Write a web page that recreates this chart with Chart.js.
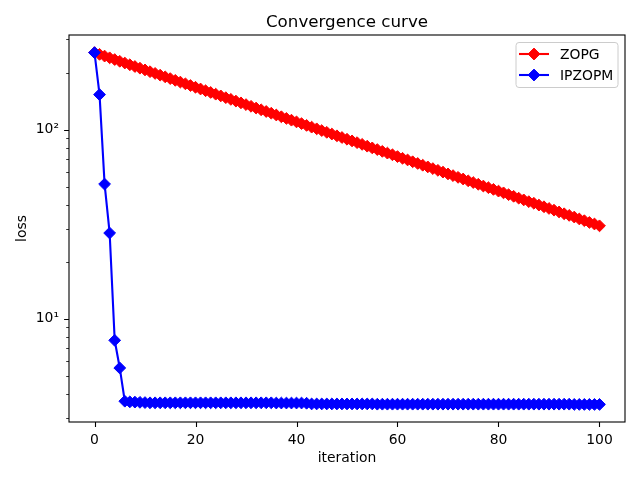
<!DOCTYPE html>
<html>
<head>
<meta charset="utf-8">
<script src="https://cdn.jsdelivr.net/npm/chart.js@4.4.1/dist/chart.umd.min.js"></script>
<style>
  body { margin: 0; background: #fff; }
  canvas { display: block; }
</style>
</head>
<body>
<canvas id="chart" width="640" height="480"></canvas>
<script>
// data
const iterations = [
  0, 1, 2, 3, 4, 5, 6, 7, 8, 9,
  10, 11, 12, 13, 14, 15, 16, 17, 18, 19,
  20, 21, 22, 23, 24, 25, 26, 27, 28, 29,
  30, 31, 32, 33, 34, 35, 36, 37, 38, 39,
  40, 41, 42, 43, 44, 45, 46, 47, 48, 49,
  50, 51, 52, 53, 54, 55, 56, 57, 58, 59,
  60, 61, 62, 63, 64, 65, 66, 67, 68, 69,
  70, 71, 72, 73, 74, 75, 76, 77, 78, 79,
  80, 81, 82, 83, 84, 85, 86, 87, 88, 89,
  90, 91, 92, 93, 94, 95, 96, 97, 98, 99,
  100
];

const zopgLoss = [
  255, 249.7, 244.5, 239.4, 234.4, 229.5, 224.7, 220.0, 215.4, 211.0,
  206.6, 202.2, 198.0, 193.9, 189.9, 185.9, 182.0, 178.2, 174.5, 170.9,
  167.3, 163.8, 160.4, 157.1, 153.8, 150.6, 147.4, 144.4, 141.4, 138.4,
  135.5, 132.7, 129.9, 127.2, 124.6, 122.0, 119.4, 116.9, 114.5, 112.1,
  109.8, 107.5, 105.2, 103.0, 100.9, 98.8, 96.7, 94.7, 92.7, 90.8,
  88.9, 87.1, 85.3, 83.5, 81.7, 80.0, 78.4, 76.7, 75.1, 73.6,
  72.0, 70.5, 69.1, 67.6, 66.2, 64.8, 63.5, 62.2, 60.9, 59.6,
  58.3, 57.1, 55.9, 54.8, 53.6, 52.5, 51.4, 50.3, 49.3, 48.3,
  47.3, 46.3, 45.3, 44.4, 43.4, 42.5, 41.6, 40.8, 39.9, 39.1,
  38.3, 37.5, 36.7, 35.9, 35.2, 34.5, 33.7, 33.0, 32.3, 31.7,
  31.0
];

const ipzopmLoss = [
  255, 153, 51.5, 28.4, 7.7, 5.5, 3.67, 3.64, 3.63, 3.62,
  3.61, 3.60, 3.60, 3.60, 3.60, 3.60, 3.60, 3.60, 3.60, 3.60,
  3.60, 3.60, 3.60, 3.60, 3.60, 3.60, 3.60, 3.60, 3.60, 3.60,
  3.60, 3.60, 3.60, 3.60, 3.60, 3.60, 3.59, 3.59, 3.59, 3.59,
  3.59, 3.59, 3.58, 3.55, 3.55, 3.55, 3.55, 3.55, 3.55, 3.55,
  3.55, 3.55, 3.55, 3.55, 3.55, 3.55, 3.54, 3.54, 3.54, 3.54,
  3.54, 3.54, 3.54, 3.54, 3.54, 3.54, 3.54, 3.54, 3.54, 3.54,
  3.54, 3.54, 3.54, 3.54, 3.54, 3.54, 3.54, 3.54, 3.54, 3.54,
  3.54, 3.54, 3.54, 3.54, 3.54, 3.54, 3.54, 3.54, 3.54, 3.54,
  3.54, 3.54, 3.54, 3.54, 3.54, 3.53, 3.53, 3.53, 3.53, 3.53,
  3.53
];

const seriesNames = ['ZOPG', 'IPZOPM'];
const seriesColors = ['#ff0000', '#0000ff'];

const xTicks = [0, 20, 40, 60, 80, 100];
const yMajorTicks = [10, 100];
const yMajorLabels = ['10\u00b9', '10\u00b2'];
const yMinorTicks = [3, 4, 5, 6, 7, 8, 9, 20, 30, 40, 50, 60, 70, 80, 90, 200, 300];

const titleText = 'Convergence curve';
const xLabel = 'iteration';
const yLabel = 'loss';

const FONT = "'DejaVu Sans', sans-serif";

function toPoints(xs, ys) {
  return xs.map((x, i) => ({ x: x, y: ys[i] }));
}

function diamond(ctx, x, y, r) {
  ctx.beginPath();
  ctx.moveTo(x - r, y);
  ctx.lineTo(x, y - r);
  ctx.lineTo(x + r, y);
  ctx.lineTo(x, y + r);
  ctx.closePath();
  ctx.fill();
  ctx.stroke();
}

// axes frame, tick marks, title, axis labels and legend, matplotlib style
const decorations = {
  id: 'decorations',
  afterDraw(chart) {
    const ctx = chart.ctx;
    const a = chart.chartArea;
    const xs = chart.scales.x;
    const ys = chart.scales.y;
    ctx.save();

    ctx.strokeStyle = '#000';
    ctx.lineWidth = 1.1;
    ctx.strokeRect(a.left, a.top, a.right - a.left, a.bottom - a.top);

    ctx.beginPath();
    xTicks.forEach(v => {
      const px = Math.round(xs.getPixelForValue(v)) + 0.5;
      ctx.moveTo(px, a.bottom);
      ctx.lineTo(px, a.bottom + 4.9);
    });
    yMajorTicks.forEach(v => {
      const py = Math.round(ys.getPixelForValue(v)) + 0.5;
      ctx.moveTo(a.left, py);
      ctx.lineTo(a.left - 4.9, py);
    });
    ctx.stroke();
    ctx.beginPath();
    ctx.lineWidth = 0.8;
    yMinorTicks.forEach(v => {
      const py = Math.round(ys.getPixelForValue(v)) + 0.5;
      if (py < a.top || py > a.bottom) return;
      ctx.moveTo(a.left, py);
      ctx.lineTo(a.left - 2.8, py);
    });
    ctx.stroke();

    ctx.fillStyle = '#000';
    ctx.textAlign = 'center';
    ctx.textBaseline = 'alphabetic';
    ctx.font = '16.7px ' + FONT;
    ctx.fillText(titleText, (a.left + a.right) / 2, 26.7);

    ctx.font = '13.9px ' + FONT;
    ctx.fillText(xLabel, (a.left + a.right) / 2, 461.5);

    ctx.save();
    ctx.translate(22, (a.top + a.bottom) / 2);
    ctx.rotate(-Math.PI / 2);
    ctx.textBaseline = 'middle';
    ctx.fillText(yLabel, 0, 0);
    ctx.restore();

    // legend
    const bx = 516, by = 42.5, bw = 102, bh = 45;
    ctx.beginPath();
    ctx.roundRect(bx, by, bw, bh, 3);
    ctx.fillStyle = 'rgba(255,255,255,0.8)';
    ctx.fill();
    ctx.strokeStyle = '#cccccc';
    ctx.lineWidth = 1;
    ctx.stroke();

    ctx.font = '13.9px ' + FONT;
    ctx.textAlign = 'left';
    ctx.textBaseline = 'middle';
    seriesNames.forEach((name, i) => {
      const ry = 54 + i * 21;
      ctx.strokeStyle = seriesColors[i];
      ctx.fillStyle = seriesColors[i];
      ctx.lineWidth = 2.1;
      ctx.beginPath();
      ctx.moveTo(519, ry);
      ctx.lineTo(549, ry);
      ctx.stroke();
      ctx.lineWidth = 1;
      diamond(ctx, 534, ry, 5.9);
      ctx.fillStyle = '#000';
      ctx.fillText(name, 560, ry + 1);
    });

    ctx.restore();
  }
};

const chart = new Chart(document.getElementById('chart'), {
  type: 'line',
  data: {
    datasets: [
      {
        label: seriesNames[0],
        data: toPoints(iterations, zopgLoss),
        borderColor: seriesColors[0],
        backgroundColor: seriesColors[0],
        borderWidth: 2.1,
        pointStyle: 'rectRot',
        pointRadius: 5.9,
        pointBorderWidth: 1,
        tension: 0,
        order: 2
      },
      {
        label: seriesNames[1],
        data: toPoints(iterations, ipzopmLoss),
        borderColor: seriesColors[1],
        backgroundColor: seriesColors[1],
        borderWidth: 2.1,
        pointStyle: 'rectRot',
        pointRadius: 5.9,
        pointBorderWidth: 1,
        tension: 0,
        order: 1
      }
    ]
  },
  options: {
    responsive: false,
    animation: false,
    devicePixelRatio: 1,
    layout: { padding: { top: 35, right: 15, left: 0, bottom: 0 } },
    plugins: {
      legend: { display: false },
      title: { display: false },
      tooltip: { enabled: false }
    },
    scales: {
      x: {
        type: 'linear',
        min: -5.05,
        max: 105.05,
        grid: { display: false, drawTicks: false, tickLength: 0 },
        border: { display: false },
        afterBuildTicks: scale => { scale.ticks = xTicks.map(v => ({ value: v })); },
        afterFit: scale => { scale.height = 58; },
        ticks: {
          autoSkip: false,
          maxRotation: 0,
          padding: 10,
          color: '#000',
          font: { family: FONT, size: 13.9 },
          callback: v => String(v)
        }
      },
      y: {
        type: 'logarithmic',
        min: 2.85,
        max: 316,
        grid: { display: false, drawTicks: false, tickLength: 0 },
        border: { display: false },
        afterBuildTicks: scale => { scale.ticks = yMajorTicks.map(v => ({ value: v })); },
        afterFit: scale => { scale.width = 69; },
        ticks: {
          autoSkip: false,
          padding: 10,
          color: '#000',
          font: { family: FONT, size: 13.9 },
          callback: v => yMajorLabels[yMajorTicks.indexOf(v)]
        }
      }
    }
  },
  plugins: [decorations]
});
</script>
</body>
</html>
